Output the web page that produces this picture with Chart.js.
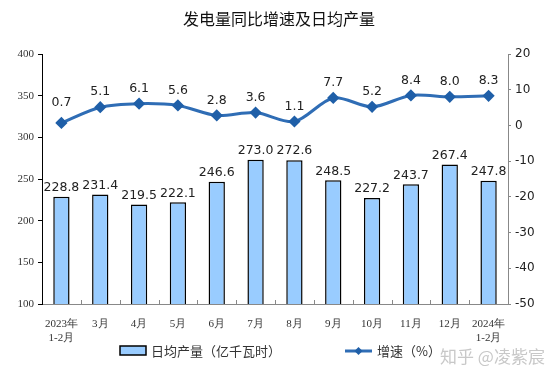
<!DOCTYPE html>
<html>
<head>
<meta charset="utf-8">
<script src="https://cdn.jsdelivr.net/npm/chart.js@4"></script>
<style>
  html, body { margin: 0; padding: 0; background: #fff; }
  #wrap { width: 558px; height: 384px; }
</style>
</head>
<body>
<div id="wrap"><canvas id="chart"></canvas></div>
<script>
const months = [
  ["2023年", "1-2月"], "3月", "4月", "5月", "6月", "7月",
  "8月", "9月", "10月", "11月", "12月", ["2024年", "1-2月"]
];
const dailyOutput = [228.8, 231.4, 219.5, 222.1, 246.6, 273.0, 272.6, 248.5, 227.2, 243.7, 267.4, 247.8];
const growth = [0.7, 5.1, 6.1, 5.6, 2.8, 3.6, 1.1, 7.7, 5.2, 8.4, 8.0, 8.3];

const barName = "日均产量（亿千瓦时）";
const lineName = "增速（%）";
const titleText = "发电量同比增速及日均产量";

const barColor = "#99CCFF";
const lineColor = "#2F6DB5";

const cjk = '"Noto Sans CJK SC", "Noto Sans", sans-serif';

// labels, title, legend, tick marks
const extras = {
  id: "extras",
  afterDatasetsDraw(chart) {
    const c = chart.ctx;
    c.save();
    c.fillStyle = "#222";
    c.font = '12.5px "DejaVu Sans", sans-serif';
    c.textAlign = "center";
    c.textBaseline = "middle";
    chart.getDatasetMeta(0).data.forEach((bar, i) => {
      c.fillText(dailyOutput[i].toFixed(1), bar.x, bar.y - 9);
    });
    chart.getDatasetMeta(1).data.forEach((pt, i) => {
      c.fillText(growth[i].toFixed(1), pt.x, pt.y - (i === 0 ? 20 : 15));
    });

    // x ticks between categories, pointing up
    const a = chart.chartArea;
    const step = (a.right - a.left) / months.length;
    c.strokeStyle = "#888";
    c.lineWidth = 1;
    for (let i = 1; i < months.length; i++) {
      const x = Math.round(a.left + step * i) + 0.5;
      c.beginPath();
      c.moveTo(x, a.bottom);
      c.lineTo(x, a.bottom - 4);
      c.stroke();
    }

    // title
    c.fillStyle = "#111";
    c.font = "16px " + cjk;
    c.fillText(titleText, 279, 19);

    // legend
    c.fillStyle = barColor;
    c.fillRect(120, 346, 26, 9);
    c.strokeStyle = "#000";
    c.lineWidth = 1.5;
    c.strokeRect(120, 346, 26, 9);
    c.fillStyle = "#333";
    c.textAlign = "left";
    c.font = "13px " + cjk;
    c.fillText(barName, 151, 351);

    c.strokeStyle = lineColor;
    c.lineWidth = 3;
    c.beginPath();
    c.moveTo(345, 351);
    c.lineTo(372, 351);
    c.stroke();
    c.fillStyle = "#1F5FA8";
    c.beginPath();
    c.moveTo(358.5, 347);
    c.lineTo(362.5, 351);
    c.lineTo(358.5, 355);
    c.lineTo(354.5, 351);
    c.closePath();
    c.fill();
    c.fillStyle = "#333";
    c.fillText(lineName, 377, 351);

    // watermark
    c.fillStyle = "#c8c8c8";
    c.font = "17px " + cjk;
    c.fillText("知乎 @凌紫宸", 440, 357);
    c.restore();
  }
};

new Chart(document.getElementById("chart"), {
  data: {
    labels: months,
    datasets: [
      {
        type: "bar",
        label: barName,
        data: dailyOutput,
        yAxisID: "y",
        backgroundColor: barColor,
        borderColor: "#000",
        borderWidth: 1.5,
        borderSkipped: "bottom",
        barPercentage: 0.42,
        categoryPercentage: 1.0,
        order: 2
      },
      {
        type: "line",
        label: lineName,
        data: growth,
        yAxisID: "y1",
        borderColor: lineColor,
        borderWidth: 3,
        tension: 0.3,
        pointStyle: "rectRot",
        pointRadius: 4,
        pointBackgroundColor: "#1F5FA8",
        pointBorderColor: "#1F5FA8",
        order: 1
      }
    ]
  },
  options: {
    responsive: true,
    maintainAspectRatio: false,
    animation: false,
    layout: { padding: { top: 54, left: 0, right: 0, bottom: 0 } },
    plugins: {
      legend: { display: false },
      tooltip: { enabled: false }
    },
    scales: {
      x: {
        offset: true,
        grid: { display: false },
        border: { color: "#888", width: 1 },
        ticks: {
          color: "#333",
          font: { family: '"Liberation Serif", serif', size: 11 },
          maxRotation: 0,
          autoSkip: false,
          padding: 6
        },
        afterFit(s) { s.height = 80; }
      },
      y: {
        position: "left",
        min: 100,
        max: 400,
        ticks: {
          stepSize: 50,
          color: "#333",
          font: { family: '"Liberation Serif", serif', size: 11 },
          padding: 4
        },
        grid: { drawOnChartArea: false, tickLength: 4, color: "#000" },
        border: { color: "#000", width: 1 },
        afterFit(s) { s.width = 42; }
      },
      y1: {
        position: "right",
        min: -50,
        max: 20,
        ticks: {
          stepSize: 10,
          color: "#222",
          font: { family: '"DejaVu Sans", sans-serif', size: 12 },
          padding: 4
        },
        grid: { drawOnChartArea: false, tickLength: 3, color: "#888" },
        border: { color: "#888", width: 1 },
        afterFit(s) { s.width = 50; }
      }
    }
  },
  plugins: [extras]
});
</script>
</body>
</html>
